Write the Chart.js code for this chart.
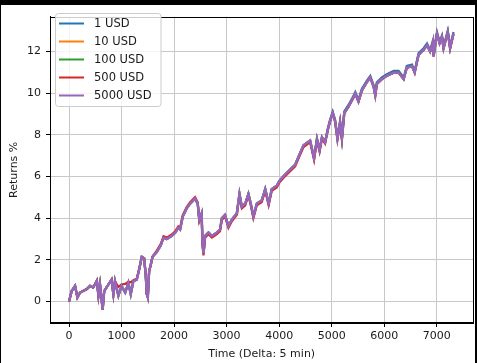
<!DOCTYPE html>
<html>
<head>
<meta charset="utf-8">
<script src="https://cdn.jsdelivr.net/npm/chart.js@4.4.1/dist/chart.umd.min.js"></script>
<style>
  html, body { margin: 0; padding: 0; background: #000; width: 477px; height: 363px; overflow: hidden; }
  #frame { position: absolute; left: 1px; top: 5px; width: 474px; height: 358px; background: #fff; }
  canvas { display: block; }
</style>
</head>
<body>
<div id="frame"><canvas id="c" width="474" height="358"></canvas></div>
<script>
// ---- data ----
const seriesLabels = ["1 USD", "10 USD", "100 USD", "500 USD", "5000 USD"];
const seriesColors = ["#1f77b4", "#ff7f0e", "#2ca02c", "#d62728", "#9467bd"];
const xTicks = [0, 1000, 2000, 3000, 4000, 5000, 6000, 7000];
const yTicks = [0, 2, 4, 6, 8, 10, 12];

const timeSteps = [0, 50, 115, 160, 210, 340, 400, 460, 530, 560, 590, 640, 670, 750, 810, 845, 875, 940, 1000, 1070,
  1130, 1175, 1225, 1290, 1340, 1385, 1430, 1460, 1480, 1500, 1525, 1555, 1590, 1670, 1745, 1800, 1860, 1955, 2020, 2080,
  2115, 2165, 2240, 2305, 2400, 2450, 2480, 2525, 2540, 2560, 2590, 2655, 2720, 2815, 2875, 2910, 2970, 3035, 3100, 3195,
  3245, 3290, 3355, 3415, 3460, 3510, 3575, 3670, 3735, 3800, 3860, 3955, 4005, 4085, 4210, 4305, 4370, 4465, 4590, 4665,
  4720, 4770, 4815, 4875, 4930, 4970, 5020, 5065, 5110, 5160, 5195, 5240, 5320, 5405, 5450, 5510, 5575, 5670, 5735, 5800,
  5830, 5860, 5955, 6050, 6180, 6275, 6370, 6430, 6530, 6580, 6620, 6655, 6750, 6815, 6875, 6930, 6940, 7005, 7055, 7100,
  7130, 7210, 7255, 7290, 7320];

const usd5000 = [0, 0.5, 0.75, 0.2, 0.43, 0.6, 0.75, 0.67, 1.0, 0.28, 0.82, -0.39, 0.5, 0.82, 1.05, 0.35, 0.98, 0.28, 0.75, 0.43,
  0.9, 0.35, 0.98, 1.05, 1.6, 2.15, 2.07, 1.29, 0.36, 0.2, 1.45, 1.75, 2.15, 2.38, 2.69, 3.07, 3.0, 3.15, 3.3, 3.54,
  3.46, 4.08, 4.47, 4.7, 4.94, 4.7, 3.93, 4.24, 2.84, 2.3, 3.15, 3.31, 3.15, 3.31, 3.46, 4.0, 4.16, 3.62, 3.93, 4.24,
  5.17, 4.55, 4.7, 5.17, 4.7, 4.08, 4.7, 4.86, 5.4, 4.7, 5.4, 5.56, 5.79, 6.02, 6.34, 6.57, 6.96, 7.5, 7.73, 6.88,
  7.81, 7.27, 7.89, 7.66, 8.28, 8.66, 9.05, 8.66, 7.81, 8.59, 7.81, 9.05, 9.36, 9.75, 9.98, 9.6, 10.14, 10.53, 10.76, 10.3,
  9.9, 10.45, 10.68, 10.84, 10.99, 10.99, 10.68, 11.23, 11.3, 10.99, 11.46, 11.85, 12.08, 12.31, 12.0, 12.47, 11.77, 12.86, 12.4, 12.7,
  12.16, 12.93, 12.16, 12.55, 12.86];

const usd1 = [0, 0.5, 0.75, 0.2, 0.43, 0.6, 0.75, 0.67, 1.0, 0.28, 0.82, -0.39, 0.5, 0.82, 1.05, 0.35, 0.98, 0.28, 0.75, 0.43,
  0.9, 0.35, 0.98, 1.05, 1.6, 2.15, 2.07, 1.29, 0.36, 0.2, 1.45, 1.75, 2.15, 2.38, 2.69, 3.07, 3.0, 3.15, 3.3, 3.54,
  3.46, 4.08, 4.47, 4.7, 4.94, 4.7, 3.93, 4.24, 2.84, 2.3, 3.15, 3.31, 3.15, 3.31, 3.46, 4.0, 4.16, 3.62, 3.93, 4.24,
  5.17, 4.55, 4.7, 5.17, 4.7, 4.08, 4.7, 4.86, 5.4, 4.7, 5.4, 5.56, 5.79, 6.02, 6.34, 6.57, 6.96, 7.5, 7.73, 6.88,
  7.81, 7.27, 7.89, 7.66, 8.36, 8.74, 9.13, 8.74, 7.89, 8.67, 7.89, 9.13, 9.44, 9.83, 10.06, 9.68, 10.22, 10.61, 10.84, 10.38,
  9.98, 10.53, 10.76, 10.92, 11.07, 11.07, 10.76, 11.31, 11.38, 11.07, 11.54, 11.93, 12.16, 12.39, 12.08, 12.55, 11.85, 12.94, 12.48, 12.78,
  12.24, 13.01, 12.24, 12.63, 12.94];

const usd10 = usd5000;
const usd100 = usd5000;

const usd500 = [0, 0.5, 0.75, 0.2, 0.43, 0.6, 0.75, 0.67, 1.0, 0.28, 0.82, -0.39, 0.5, 0.82, 1.05, 0.35, 0.98, 0.7, 0.82, 0.85,
  0.95, 0.92, 1.02, 1.1, 1.6, 2.15, 2.07, 1.29, 0.36, 0.2, 1.45, 1.75, 2.15, 2.45, 2.76, 3.14, 3.07, 3.22, 3.37, 3.61,
  3.53, 4.15, 4.54, 4.77, 5.01, 4.77, 3.85, 4.16, 2.76, 2.22, 3.07, 3.23, 3.07, 3.23, 3.38, 3.92, 4.08, 3.54, 3.85, 4.16,
  5.09, 4.47, 4.62, 5.09, 4.62, 4.0, 4.62, 4.78, 5.32, 4.62, 5.32, 5.48, 5.71, 5.94, 6.26, 6.49, 6.88, 7.42, 7.65, 6.8,
  7.73, 7.19, 7.81, 7.58, 8.28, 8.66, 9.05, 8.66, 7.81, 8.59, 7.81, 9.05, 9.36, 9.75, 9.98, 9.6, 10.14, 10.53, 10.76, 10.3,
  9.9, 10.45, 10.68, 10.84, 10.99, 10.99, 10.68, 11.23, 11.3, 10.99, 11.46, 11.85, 12.08, 12.31, 12.0, 12.47, 11.77, 12.86, 12.4, 12.7,
  12.16, 12.93, 12.16, 12.55, 12.86];

const seriesValues = [usd1, usd10, usd100, usd500, usd5000];

// ---- chart ----
const FONT = "'DejaVu Sans', sans-serif";
Chart.defaults.font.family = FONT;
Chart.defaults.color = "#1a1a1a";

const datasets = seriesValues.map((vals, i) => ({
  label: seriesLabels[i],
  data: timeSteps.map((t, j) => ({ x: t, y: vals[j] })),
  borderColor: seriesColors[i],
  backgroundColor: seriesColors[i],
  borderWidth: i === seriesValues.length - 1 ? 2.5 : 2.2,
  pointRadius: 0,
  tension: 0,
  fill: false,
  order: seriesValues.length - i
}));

const frameAndLegend = {
  id: "frameAndLegend",
  afterDraw(chart) {
    const ctx = chart.ctx;
    const a = chart.chartArea;
    ctx.save();
    ctx.strokeStyle = "#000";
    ctx.lineWidth = 1;
    ctx.strokeRect(Math.round(a.left) + 0.5, Math.round(a.top) + 0.5, Math.round(a.right - a.left) - 1, Math.round(a.bottom - a.top) - 1);

    // matplotlib-like legend
    const bx = 54.5, by = 8.5, bw = 105.5, bh = 93;
    const r = 3;
    ctx.beginPath();
    ctx.moveTo(bx + r, by);
    ctx.lineTo(bx + bw - r, by);
    ctx.quadraticCurveTo(bx + bw, by, bx + bw, by + r);
    ctx.lineTo(bx + bw, by + bh - r);
    ctx.quadraticCurveTo(bx + bw, by + bh, bx + bw - r, by + bh);
    ctx.lineTo(bx + r, by + bh);
    ctx.quadraticCurveTo(bx, by + bh, bx, by + bh - r);
    ctx.lineTo(bx, by + r);
    ctx.quadraticCurveTo(bx, by, bx + r, by);
    ctx.closePath();
    ctx.fillStyle = "rgba(255,255,255,0.8)";
    ctx.fill();
    ctx.strokeStyle = "#cccccc";
    ctx.stroke();

    ctx.font = "11.5px " + FONT;
    ctx.textBaseline = "middle";
    ctx.textAlign = "left";
    chart.data.datasets.forEach((ds, i) => {
      const y = 18.5 + i * 18;
      ctx.strokeStyle = ds.borderColor;
      ctx.lineWidth = 2;
      ctx.beginPath();
      ctx.moveTo(58, y);
      ctx.lineTo(83, y);
      ctx.stroke();
      ctx.fillStyle = "#1a1a1a";
      ctx.fillText(ds.label, 93, y + 0.5);
    });
    ctx.restore();
  }
};

new Chart(document.getElementById("c"), {
  type: "line",
  data: { datasets },
  options: {
    responsive: false,
    devicePixelRatio: 1,
    animation: false,
    layout: { padding: { top: 2, right: 1.5, left: 0, bottom: 0 } },
    plugins: { legend: { display: false }, tooltip: { enabled: false } },
    scales: {
      x: {
        type: "linear",
        min: -362,
        max: 7700,
        afterFit: (s) => { s.height = 40; },
        afterBuildTicks: (s) => { s.ticks = xTicks.map(v => ({ value: v })); },
        ticks: { font: { size: 11 }, color: "#1a1a1a", padding: 3, maxRotation: 0, includeBounds: false, callback: (v) => String(v) },
        grid: { color: "#c8c8c8", lineWidth: 1, tickColor: "#000", tickLength: 4, drawTicks: true },
        border: { display: true, color: "#000", width: 1 },
        title: { display: true, text: "Time (Delta: 5 min)", font: { size: 11 }, color: "#1a1a1a", padding: { top: 0, bottom: 2 } }
      },
      y: {
        type: "linear",
        min: -1.03,
        max: 13.68,
        afterFit: (s) => { s.width = 49; },
        afterBuildTicks: (s) => { s.ticks = yTicks.map(v => ({ value: v })); },
        ticks: { font: { size: 11 }, color: "#1a1a1a", padding: 5, includeBounds: false, callback: (v) => String(v) },
        grid: { color: "#c8c8c8", lineWidth: 1, tickColor: "#000", tickLength: 4, drawTicks: true },
        border: { display: true, color: "#000", width: 1 },
        title: { display: true, text: "Returns %", font: { size: 11 }, color: "#1a1a1a", padding: { top: 7, bottom: 0 } }
      }
    }
  },
  plugins: [frameAndLegend]
});
</script>
</body>
</html>
